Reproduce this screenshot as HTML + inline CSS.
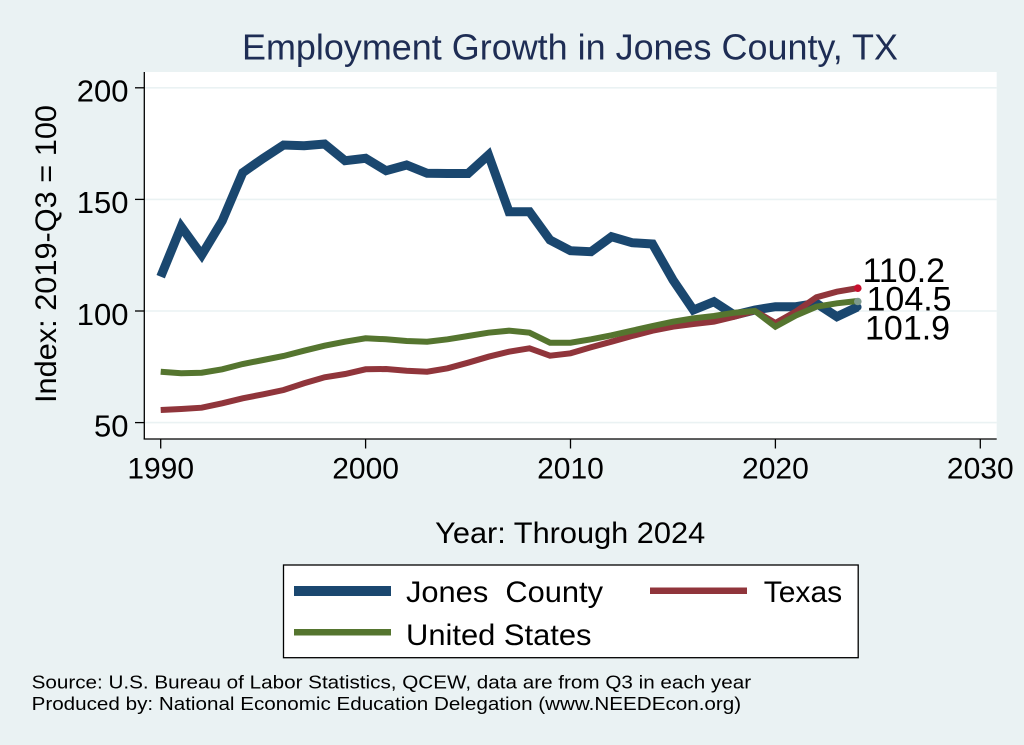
<!DOCTYPE html>
<html>
<head>
<meta charset="utf-8">
<style>
  html,body{margin:0;padding:0;background:#eaf2f3;}
  svg{display:block;}
  text{font-family:"Liberation Sans",Arial,sans-serif;}
</style>
</head>
<body>
<svg width="1024" height="745" viewBox="0 0 1024 745" xmlns="http://www.w3.org/2000/svg">
  <rect x="0" y="0" width="1024" height="745" fill="#eaf2f3"/>

  <!-- Title -->
  <text x="570" y="59.5" font-size="36" fill="#1e2d54" text-anchor="middle" textLength="656" lengthAdjust="spacingAndGlyphs">Employment Growth in Jones County, TX</text>

  <!-- Plot area -->
  <rect x="144.3" y="72" width="852.4" height="367" fill="#ffffff"/>

  <!-- Gridlines -->
  <g stroke="#eaf2f3" stroke-width="1.6">
    <line x1="144.3" y1="87.8" x2="996.7" y2="87.8"/>
    <line x1="144.3" y1="199.4" x2="996.7" y2="199.4"/>
    <line x1="144.3" y1="311" x2="996.7" y2="311"/>
    <line x1="144.3" y1="422.6" x2="996.7" y2="422.6"/>
  </g>

  <!-- Axes -->
  <g stroke="#000" stroke-width="1.3" fill="none">
    <line x1="144.3" y1="72" x2="144.3" y2="439.5"/>
    <line x1="143.7" y1="439" x2="996.7" y2="439"/>
    <line x1="135" y1="87.8" x2="144.3" y2="87.8"/>
    <line x1="135" y1="199.4" x2="144.3" y2="199.4"/>
    <line x1="135" y1="311" x2="144.3" y2="311"/>
    <line x1="135" y1="422.6" x2="144.3" y2="422.6"/>
    <line x1="160.7" y1="439" x2="160.7" y2="448.5"/>
    <line x1="365.6" y1="439" x2="365.6" y2="448.5"/>
    <line x1="570.5" y1="439" x2="570.5" y2="448.5"/>
    <line x1="775.4" y1="439" x2="775.4" y2="448.5"/>
    <line x1="980.3" y1="439" x2="980.3" y2="448.5"/>
  </g>

  <!-- Y tick labels -->
  <g font-size="31" fill="#000" text-anchor="end">
    <text x="128.5" y="101.7">200</text>
    <text x="128.5" y="213.2">150</text>
    <text x="128.5" y="324.8">100</text>
    <text x="128.5" y="436.3">50</text>
  </g>

  <!-- X tick labels -->
  <g font-size="30" fill="#000" text-anchor="middle">
    <text x="160.7" y="478.3">1990</text>
    <text x="365.6" y="478.3">2000</text>
    <text x="570.5" y="478.3">2010</text>
    <text x="775.4" y="478.3">2020</text>
    <text x="980.3" y="478.3">2030</text>
  </g>

  <!-- Y axis title -->
  <text transform="translate(56,254) rotate(-90)" font-size="30" fill="#000" text-anchor="middle" textLength="298" lengthAdjust="spacingAndGlyphs">Index: 2019-Q3 = 100</text>

  <!-- X axis title -->
  <text x="570.2" y="543" font-size="30" fill="#000" text-anchor="middle" textLength="270" lengthAdjust="spacingAndGlyphs">Year: Through 2024</text>

  <!-- Series -->
  <polyline fill="none" stroke="#1a476f" stroke-width="9" stroke-linejoin="miter" stroke-miterlimit="3" stroke-linecap="butt"
    points="160.7,276.7 181.2,226.7 201.7,255 222.2,221 242.7,172.7 263.2,158.3 283.6,145 304.1,145.7 324.6,144 345.1,160.7 365.6,158.3 386.1,170.7 406.6,165 427.1,173.3 447.6,173.5 468.1,173.5 488.5,155 509.0,211.7 529.5,211.7 550.0,240 570.5,250.7 591.0,251.7 611.5,236.7 632.0,242.7 652.5,244 673.0,280 693.4,310 713.9,301.7 734.4,315 754.9,310 775.4,306.7 795.9,306.7 816.4,303.3 836.9,316.7 857.4,307"/>
  <polyline fill="none" stroke="#90353b" stroke-width="6" stroke-linejoin="miter" stroke-miterlimit="3" stroke-linecap="butt"
    points="160.7,410 181.2,409 201.7,407.7 222.2,403.3 242.7,398.3 263.2,394.3 283.6,390 304.1,383.3 324.6,377.3 345.1,374 365.6,369.3 386.1,369 406.6,370.7 427.1,371.7 447.6,368.3 468.1,362.7 488.5,356.7 509.0,351.7 529.5,348.3 550.0,355.7 570.5,353.3 591.0,347.3 611.5,341.7 632.0,336 652.5,330.7 673.0,326.7 693.4,324 713.9,321.7 734.4,316.7 754.9,311 775.4,323 795.9,311.5 816.4,297.3 836.9,291.7 857.4,288.2"/>
  <polyline fill="none" stroke="#55752f" stroke-width="6" stroke-linejoin="miter" stroke-miterlimit="3" stroke-linecap="butt"
    points="160.7,371.7 181.2,373.3 201.7,372.7 222.2,369.3 242.7,364 263.2,360 283.6,356 304.1,350.7 324.6,345.7 345.1,341.7 365.6,338.3 386.1,339.3 406.6,341 427.1,341.7 447.6,339.3 468.1,336 488.5,332.7 509.0,330.7 529.5,332.7 550.0,342.7 570.5,342.7 591.0,339.3 611.5,335.3 632.0,330.7 652.5,326 673.0,321.7 693.4,318.3 713.9,316 734.4,312.7 754.9,311 775.4,326.7 795.9,315.5 816.4,306.7 836.9,303.3 857.4,301"/>

  <!-- End markers -->
  <circle cx="857.8" cy="307" r="3.8" fill="#1a476f"/>
  <circle cx="857.8" cy="288.2" r="3.8" fill="#c8102e"/>
  <circle cx="857.8" cy="301.5" r="3.8" fill="#7d9a8c"/>

  <!-- End labels -->
  <g font-size="34" fill="#000">
    <text x="862.5" y="282">110.2</text>
    <text x="866.5" y="310.7">104.5</text>
    <text x="865" y="339.5">101.9</text>
  </g>

  <!-- Legend -->
  <rect x="283.5" y="565" width="574.7" height="92.7" fill="#ffffff" stroke="#000" stroke-width="1.3"/>
  <line x1="294" y1="591" x2="391" y2="591" stroke="#1a476f" stroke-width="10"/>
  <line x1="650" y1="590.7" x2="747" y2="590.7" stroke="#90353b" stroke-width="6.5"/>
  <line x1="294" y1="632.3" x2="391" y2="632.3" stroke="#55752f" stroke-width="6.5"/>
  <g font-size="30" fill="#000">
    <text x="406" y="602" textLength="197" lengthAdjust="spacingAndGlyphs">Jones&#160;&#160;County</text>
    <text x="763.7" y="602" textLength="78.5" lengthAdjust="spacingAndGlyphs">Texas</text>
    <text x="406" y="645" textLength="185.5" lengthAdjust="spacingAndGlyphs">United States</text>
  </g>

  <!-- Footer -->
  <g font-size="18.5" fill="#000">
    <text x="31.6" y="688.3" textLength="719.5" lengthAdjust="spacingAndGlyphs">Source: U.S. Bureau of Labor Statistics, QCEW, data are from Q3 in each year</text>
    <text x="31.6" y="710" textLength="709.5" lengthAdjust="spacingAndGlyphs">Produced by: National Economic Education Delegation (www.NEEDEcon.org)</text>
  </g>
</svg>
</body>
</html>
